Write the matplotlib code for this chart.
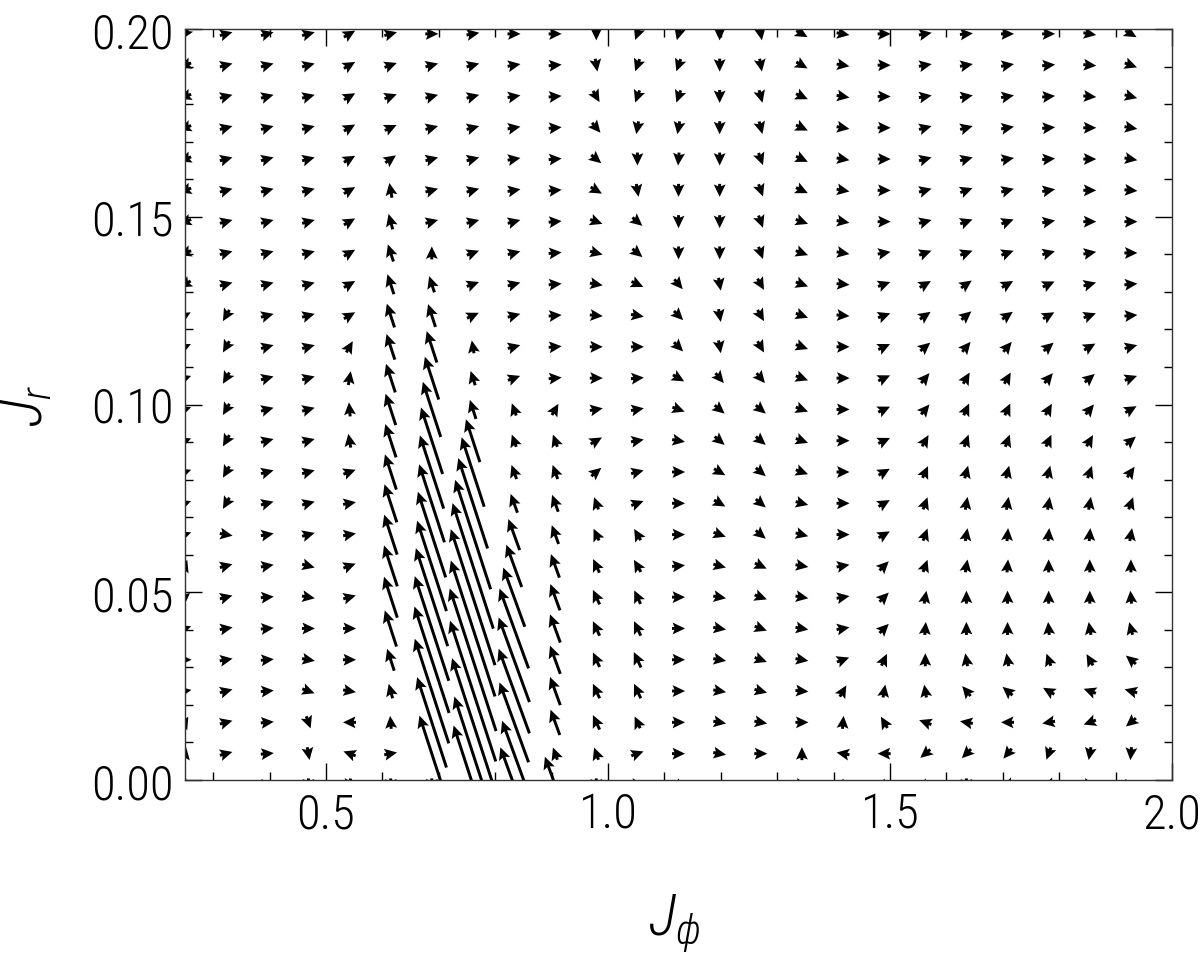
import numpy as np
import matplotlib
matplotlib.use('Agg')
from matplotlib import pyplot as plt
from matplotlib import font_manager as fm
from matplotlib.ticker import MultipleLocator

# narrow font like the original, if one is installed
def pick_font():
    prefs = ['Roboto Condensed', 'Noto Sans Condensed', 'Liberation Sans Narrow',
             'Open Sans Condensed', 'DejaVu Sans Condensed']
    fonts = fm.fontManager.ttflist
    for p in prefs:
        for f in fonts:
            if f.name == p and f.style == 'normal':
                return f.name, True
    for f in fonts:
        if f.stretch in ('condensed', 'semi-condensed') and f.style == 'normal':
            return f.name, True
    return 'DejaVu Sans', False

font_name, narrow = pick_font()
plt.rcParams['font.family'] = [font_name, 'DejaVu Sans']
plt.rcParams['font.stretch'] = 'condensed'
plt.rcParams['font.weight'] = 'light'
plt.rcParams['mathtext.fontset'] = 'custom'
plt.rcParams['mathtext.rm'] = font_name
plt.rcParams['mathtext.it'] = font_name + ':italic'
plt.rcParams['mathtext.fallback'] = 'stixsans'
tick_size = 35 if narrow else 28
label_size = 42 if narrow else 34

# grid of the vector field
j_phi = np.linspace(0.25, 2.0, 25)[:-1]          # 24 columns
j_r = np.linspace(0.0, 0.2, 25) - 0.0013          # 25 rows

# arrow direction (deg, screen), rows listed from top (J_r=0.2) to bottom (J_r=0)
angle_rows = [
    [240, 15, 15, 15, 30, 15, 0, 10, 0, 0, -90, -110, -105, -90, -80, -30, -10, 0, 10, 5, 0, 0, -10, -30],
    [200, 15, 15, 15, 30, 20, 15, 15, 10, 5, -80, -110, -110, -90, -80, -30, -10, 0, 10, 10, 10, 5, -5, -20],
    [200, 15, 15, 15, 30, 20, 15, 15, 10, 5, -60, -110, -110, -90, -75, -25, -10, 0, 10, 10, 10, 5, -5, -15],
    [200, 15, 15, 15, 30, 25, 15, 15, 10, 5, -50, -100, -100, -90, -75, -25, -10, 0, 15, 15, 10, 5, 0, -10],
    [200, 15, 15, 15, 30, 35, 15, 15, 10, 5, -40, -90, -95, -90, -70, -25, -10, 0, 15, 15, 10, 5, 0, -10],
    [200, 15, 15, 15, 30, 100, 15, 15, 10, 5, -30, -80, -90, -90, -70, -25, -10, 0, 15, 20, 15, 10, 0, -5],
    [200, 15, 15, 15, 30, 105, 15, 15, 15, 5, -20, -40, -90, -90, -70, -20, -10, 0, 15, 20, 20, 10, 0, 0],
    [200, 15, 15, 15, 30, 108, 90, 20, 15, 5, -15, -40, -90, -90, -70, -20, -10, 10, 20, 20, 20, 15, 10, 0],
    [210, 15, 15, 15, 30, 108, 108, 20, 15, 5, -10, -25, -50, -80, -60, -20, -5, 20, 30, 35, 30, 25, 15, 5],
    [30, 240, 15, 15, 30, 108, 108, 25, 15, 5, -5, -10, -45, -80, -60, -20, -5, 20, 35, 40, 35, 30, 20, 5],
    [25, 240, 15, 15, 60, 108, 108, 100, 15, 5, 0, 0, -45, -80, -60, -20, 0, 25, 40, 50, 50, 40, 30, 15],
    [20, 240, 15, 15, 80, 108, 108, 108, 20, 5, 0, 5, -30, -50, -50, -20, 0, 25, 50, 60, 60, 50, 40, 20],
    [20, 240, 15, 15, 95, 108, 108, 108, 110, 60, 10, 10, -20, -40, -40, -20, 0, 25, 50, 65, 65, 60, 50, 30],
    [20, 240, 15, 15, 100, 108, 108, 108, 110, 110, 30, 10, -10, -40, -40, -20, 0, 25, 60, 70, 70, 65, 60, 40],
    [20, 240, 15, 15, 20, 108, 108, 108, 110, 110, 40, 15, 0, -30, -40, -20, 0, 30, 65, 75, 75, 75, 70, 55],
    [20, 240, 15, 15, 10, 108, 108, 108, 110, 110, 110, 20, 0, -30, -40, -15, 0, 30, 70, 80, 80, 80, 80, 70],
    [20, -10, 10, 15, 10, 108, 108, 108, 110, 110, 115, 120, 0, -20, -40, -15, 0, 30, 70, 80, 85, 85, 85, 80],
    [70, 15, 10, -15, 20, 108, 108, 108, 110, 110, 115, 120, 5, -15, -25, -10, 10, 45, 70, 80, 85, 90, 90, 90],
    [40, 15, 5, -10, 15, 108, 108, 108, 110, 110, 115, 115, 0, -10, -20, -10, 10, 45, 80, 90, 90, 90, 90, 95],
    [20, 10, 5, 0, 0, 108, 108, 108, 110, 110, 115, 115, 0, -10, -20, -10, 10, 45, 85, 90, 90, 95, 100, 105],
    [0, 10, 5, -10, 0, 108, 108, 108, 110, 110, 115, 115, 0, -10, -20, -10, 20, 65, 90, 100, 100, 110, 120, 140],
    [10, 15, 5, -20, -10, 105, 108, 108, 110, 110, 115, 115, 0, -10, -15, -5, 60, 80, 100, 130, 140, 150, 160, 165],
    [60, 15, 5, -70, 180, 95, 108, 108, 110, 110, 115, 115, 0, -10, -10, 0, 85, 120, 160, 170, 180, 190, 200, 220],
    [80, 15, 5, -80, 160, 10, 108, 108, 110, 110, 110, 20, 0, -10, 0, 90, 170, 180, 220, 225, 230, 250, 260, 265],
    [80, 30, 0, -90, -100, -90, -90, 108, 110, 110, -90, -10, 90, 160, 160, -10, 90, 90, 90, -90, 200, 200, -10, 0],
]

# arrow magnitude, same layout
mag_rows = [
    [13, 13, 13, 13, 13, 13, 13, 13, 13, 13, 13, 13, 13, 13, 13, 13, 13, 13, 13, 13, 13, 13, 13, 13],
    [13, 13, 13, 13, 13, 13, 13, 13, 13, 13, 13, 13, 13, 13, 13, 13, 13, 13, 13, 13, 13, 13, 13, 13],
    [13, 13, 13, 13, 13, 13, 13, 13, 13, 13, 13, 13, 13, 13, 13, 13, 13, 13, 13, 13, 13, 13, 13, 13],
    [13, 13, 13, 13, 13, 13, 13, 13, 13, 13, 13, 13, 13, 13, 13, 13, 13, 13, 13, 13, 13, 13, 13, 13],
    [13, 13, 13, 13, 13, 13, 13, 13, 13, 13, 13, 13, 13, 13, 13, 13, 13, 13, 13, 13, 13, 13, 13, 13],
    [13, 13, 13, 13, 13, 15, 13, 13, 13, 13, 13, 13, 13, 13, 13, 13, 13, 13, 13, 13, 13, 13, 13, 13],
    [13, 13, 13, 13, 13, 16, 13, 13, 13, 13, 13, 13, 13, 13, 13, 13, 13, 13, 13, 13, 13, 13, 13, 13],
    [13, 13, 13, 13, 13, 18, 13, 13, 13, 13, 13, 13, 13, 13, 13, 13, 13, 13, 13, 13, 13, 13, 13, 13],
    [13, 13, 13, 13, 13, 21, 17, 13, 13, 13, 13, 13, 13, 13, 13, 13, 13, 13, 13, 13, 13, 13, 13, 13],
    [13, 13, 13, 13, 13, 25, 24, 13, 13, 13, 13, 13, 13, 13, 13, 13, 13, 13, 13, 13, 13, 13, 13, 13],
    [13, 13, 13, 13, 13, 27, 33, 13, 13, 13, 13, 13, 13, 13, 13, 13, 13, 13, 13, 13, 13, 13, 13, 13],
    [13, 13, 13, 13, 14, 30, 45, 15, 13, 13, 13, 13, 13, 13, 13, 13, 13, 13, 13, 13, 13, 13, 13, 13],
    [13, 13, 13, 13, 14, 33, 58, 20, 13, 13, 13, 13, 13, 13, 13, 13, 13, 13, 13, 13, 13, 13, 13, 13],
    [13, 13, 13, 13, 14, 35, 70, 45, 13, 13, 13, 13, 13, 13, 13, 13, 13, 13, 13, 13, 13, 13, 13, 13],
    [13, 13, 13, 13, 13, 37, 77, 73, 15, 15, 13, 13, 13, 13, 13, 13, 13, 13, 13, 13, 13, 13, 13, 13],
    [13, 13, 13, 13, 13, 40, 82, 95, 20, 18, 13, 13, 13, 13, 13, 13, 13, 13, 13, 13, 13, 13, 13, 13],
    [13, 13, 13, 13, 13, 42, 90, 115, 33, 20, 13, 13, 13, 13, 13, 13, 13, 13, 13, 13, 13, 13, 13, 13],
    [13, 13, 13, 13, 13, 43, 95, 132, 45, 25, 15, 14, 13, 13, 13, 13, 13, 13, 13, 13, 13, 13, 13, 13],
    [13, 13, 13, 13, 13, 43, 103, 143, 63, 28, 16, 15, 13, 13, 13, 13, 13, 13, 13, 13, 13, 13, 13, 13],
    [13, 13, 13, 13, 13, 38, 110, 143, 85, 30, 16, 16, 13, 13, 13, 13, 13, 13, 13, 13, 13, 13, 13, 13],
    [13, 13, 13, 13, 13, 23, 112, 150, 90, 30, 16, 17, 13, 13, 13, 13, 13, 13, 13, 13, 13, 13, 13, 13],
    [13, 13, 13, 13, 13, 15, 110, 148, 90, 30, 16, 16, 13, 13, 13, 13, 13, 13, 13, 13, 13, 13, 13, 13],
    [13, 13, 13, 13, 13, 13, 95, 135, 85, 27, 16, 13, 13, 13, 13, 13, 13, 13, 13, 13, 13, 13, 13, 13],
    [13, 13, 13, 13, 13, 13, 80, 120, 70, 13, 13, 13, 13, 13, 13, 13, 13, 13, 13, 13, 13, 13, 13, 13],
    [13, 13, 13, 13, 13, 13, 13, 125, 80, 60, 13, 13, 13, 13, 13, 13, 13, 13, 13, 13, 13, 13, 13, 13],
]

ang = np.radians(np.array(angle_rows[::-1], dtype=float))
mag = np.array(mag_rows[::-1], dtype=float)
U = mag * np.cos(ang)
V = mag * np.sin(ang)
X, Y = np.meshgrid(j_phi, j_r)

fig = plt.figure(figsize=(12, 9.62), dpi=100)
ax = fig.add_axes([0.1542, 0.1881, 0.8225, 0.7807])
ax.quiver(X, Y, U, V, pivot='mid', angles='uv', scale_units='dots', scale=1,
          width=0.003, headwidth=4.0, headlength=4.2, headaxislength=3.6, color='k')

ax.set_xlim(0.25, 2.0)
ax.set_ylim(0.0, 0.2)
ax.xaxis.set_minor_locator(MultipleLocator(0.1))
ax.yaxis.set_minor_locator(MultipleLocator(0.01))
ax.set_xticks([0.5, 1.0, 1.5, 2.0])
ax.set_xticklabels(['0.5', '1.0', '1.5', '2.0'])
ax.set_yticks([0.0, 0.05, 0.10, 0.15, 0.20])
ax.set_yticklabels(['0.00', '0.05', '0.10', '0.15', '0.20'])
ax.tick_params(which='both', direction='in', top=True, right=True, labelsize=tick_size, width=1)
ax.tick_params(which='major', length=12, pad=8)
ax.tick_params(which='minor', length=6)
for s in ax.spines.values():
    s.set_linewidth(1)
    s.set_color('#333333')

ax.set_xlabel(r'$J_\phi$', fontsize=label_size)
ax.set_ylabel(r'$J_r$', fontsize=label_size)
ax.xaxis.set_label_coords(0.495, -0.148)
ax.yaxis.set_label_coords(-0.133, 0.5)

plt.savefig('out.png', dpi=100)
